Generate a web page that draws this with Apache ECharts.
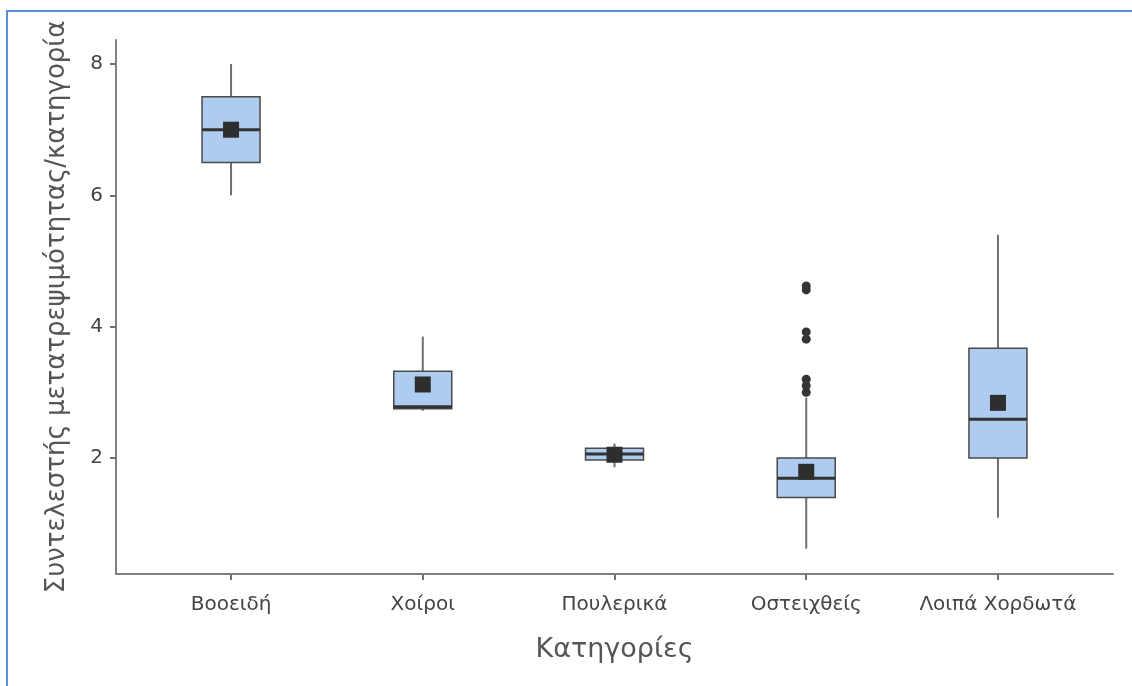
<!DOCTYPE html>
<html>
<head>
<meta charset="utf-8">
<script src="https://cdn.jsdelivr.net/npm/echarts@6/dist/echarts.min.js"></script>
<style>
  html, body { margin: 0; padding: 0; background: #fff; }
  #wrap { position: relative; width: 1132px; height: 686px; }
  #chart { position: absolute; left: 0; top: 0; width: 1132px; height: 686px; }
  #frame { position: absolute; left: 6px; top: 10px; right: 0; bottom: -5px;
           border-left: 2px solid #5b8fd6; border-top: 2px solid #5b8fd6; pointer-events: none; }
</style>
</head>
<body>
<div id="wrap"><div id="chart"></div><div id="frame"></div></div>
<script>
// ---- data ----
const categories = ['Βοοειδή', 'Χοίροι', 'Πουλερικά', 'Οστειχθείς', 'Λοιπά Χορδωτά'];
const whiskerLow  = [6.0, 2.72, 1.86, 0.62, 1.09];
const quartile1   = [6.5, 2.75, 1.97, 1.40, 2.00];
const medians     = [7.0, 2.78, 2.06, 1.69, 2.59];
const quartile3   = [7.5, 3.32, 2.15, 2.00, 3.67];
const whiskerHigh = [8.0, 3.85, 2.22, 2.92, 5.40];
const means       = [7.0, 3.12, 2.05, 1.79, 2.84];
const outlierCat  = [4, 4, 4, 4, 4, 4, 4];
const outlierVal  = [3.00, 3.10, 3.20, 3.81, 3.92, 4.56, 4.62];
const yTicks = [2, 4, 6, 8];
const xTitle = 'Κατηγορίες';
const yTitle = 'Συντελεστής μετατρεψιμότητας/κατηγορία';

const boxData = categories.map((c, i) => [i + 1, whiskerLow[i], quartile1[i], medians[i], quartile3[i], whiskerHigh[i]]);
const meanData = categories.map((c, i) => [i + 1, means[i]]);
const outlierData = outlierCat.map((c, i) => [c, outlierVal[i]]);

const FONT = 'DejaVu Sans';
const chart = echarts.init(document.getElementById('chart'), null, { renderer: 'canvas' });
chart.setOption({
  animation: false,
  backgroundColor: '#ffffff',
  grid: { left: 116, right: 19, top: 40, bottom: 112, containLabel: false },
  xAxis: {
    type: 'value', min: 0.4, max: 5.6,
    name: xTitle, nameLocation: 'middle', nameGap: 62,
    nameTextStyle: { fontFamily: FONT, fontSize: 27, color: '#555555' },
    axisLine: { show: true, lineStyle: { color: '#808080', width: 2 } },
    axisTick: { show: true, length: 6, customValues: [1, 2, 3, 4, 5], lineStyle: { color: '#707070', width: 2 } },
    axisLabel: { customValues: [1, 2, 3, 4, 5], margin: 21, fontFamily: FONT, fontSize: 20, color: '#444444',
      formatter: v => categories[Math.round(v) - 1] || '' },
    splitLine: { show: false }
  },
  yAxis: {
    type: 'value', min: 0.2336, max: 8.366,
    name: yTitle, nameLocation: 'middle', nameGap: 46,
    nameTextStyle: { fontFamily: FONT, fontSize: 26, color: '#555555' },
    axisLine: { show: true, lineStyle: { color: '#808080', width: 2 } },
    axisTick: { show: true, length: 6, customValues: yTicks, lineStyle: { color: '#707070', width: 2 } },
    axisLabel: { customValues: yTicks, margin: 13, fontFamily: FONT, fontSize: 20, color: '#444444' },
    splitLine: { show: false }
  },
  series: [
    {
      type: 'custom',
      data: boxData,
      encode: { x: 0, y: [1, 2, 3, 4, 5] },
      z: 2,
      renderItem: function (params, api) {
        const x = api.value(0);
        const lo = api.coord([x, api.value(1)]);
        const q1 = api.coord([x, api.value(2)]);
        const md = api.coord([x, api.value(3)]);
        const q3 = api.coord([x, api.value(4)]);
        const hi = api.coord([x, api.value(5)]);
        const w = 58;
        return {
          type: 'group',
          children: [
            { type: 'line', shape: { x1: lo[0], y1: lo[1], x2: q1[0], y2: q1[1] }, style: { stroke: '#6e6e6e', lineWidth: 2 } },
            { type: 'line', shape: { x1: q3[0], y1: q3[1], x2: hi[0], y2: hi[1] }, style: { stroke: '#6e6e6e', lineWidth: 2 } },
            { type: 'rect', shape: { x: q3[0] - w / 2, y: q3[1], width: w, height: q1[1] - q3[1] },
              style: { fill: '#aecbf0', stroke: '#4a4a4a', lineWidth: 1.5 } },
            { type: 'line', shape: { x1: md[0] - w / 2, y1: md[1], x2: md[0] + w / 2, y2: md[1] }, style: { stroke: '#333333', lineWidth: 3 } }
          ]
        };
      }
    },
    {
      type: 'scatter', data: outlierData, symbol: 'circle', symbolSize: 9, z: 3,
      itemStyle: { color: '#353535', opacity: 1 }
    },
    {
      type: 'scatter', data: meanData, symbol: 'rect', symbolSize: 16, z: 4,
      itemStyle: { color: '#2e2e2e', opacity: 1 }
    }
  ]
});
</script>
</body>
</html>
